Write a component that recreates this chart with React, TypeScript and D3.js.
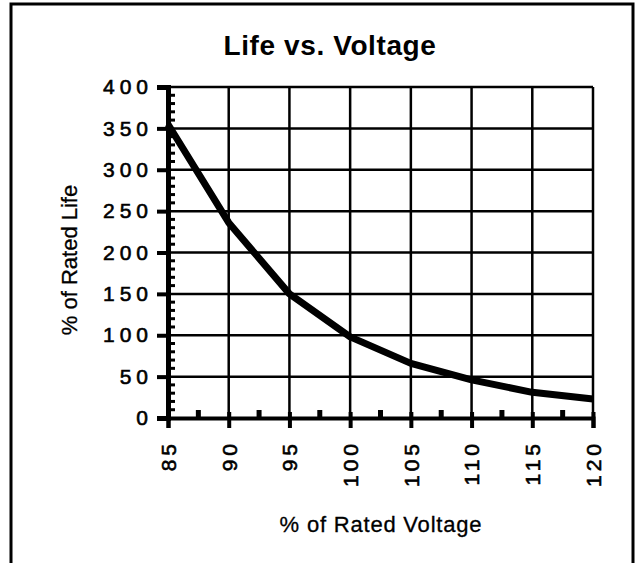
import { useEffect, useRef } from 'react';
import * as d3 from 'd3';

// % of rated voltage vs % of rated life
const voltage = [85, 90, 95, 100, 105, 110, 115, 120];
const life = [355, 236, 150, 98, 66, 46, 31, 23];
const xTicks = [85, 90, 95, 100, 105, 110, 115, 120];
const yTicks = [0, 50, 100, 150, 200, 250, 300, 350, 400];

const W = 638;
const H = 563;

function App() {
  const ref = useRef<SVGSVGElement>(null);

  useEffect(() => {
    const svg = d3.select(ref.current);
    svg.selectAll('*').remove();

    const x = d3.scaleLinear().domain([85, 120]).range([168, 593]);
    const y = d3.scaleLinear().domain([0, 400]).range([418, 87]);
    const font = 'Liberation Sans, Arial, Helvetica, sans-serif';

    // frame
    svg.append('rect')
      .attr('x', 11).attr('y', 4)
      .attr('width', 622).attr('height', 566)
      .attr('fill', 'white').attr('stroke', 'black').attr('stroke-width', 3);

    // title
    svg.append('text')
      .attr('x', 330).attr('y', 55)
      .attr('text-anchor', 'middle')
      .style('font-family', font).style('font-weight', 'bold')
      .style('font-size', '28px').style('letter-spacing', '0.6px')
      .text('Life vs. Voltage');

    // grid
    const grid = svg.append('g');
    grid.selectAll('line.h')
      .data(yTicks.filter(d => d > 0))
      .join('line')
      .attr('x1', x(85)).attr('x2', x(120))
      .attr('y1', d => y(d)).attr('y2', d => y(d))
      .attr('stroke', 'black').attr('stroke-width', 2.5);
    grid.selectAll('line.v')
      .data(xTicks.filter(d => d > 85))
      .join('line')
      .attr('x1', d => x(d)).attr('x2', d => x(d))
      .attr('y1', y(400)).attr('y2', y(0))
      .attr('stroke', 'black').attr('stroke-width', 2.5);

    // y axis
    const yAxis = svg.append('g')
      .attr('transform', `translate(${x(85)},0)`)
      .call(d3.axisLeft(y).tickValues(yTicks).tickSize(11).tickPadding(4));
    yAxis.select('.domain').attr('stroke-width', 5);
    yAxis.selectAll('.tick line').attr('stroke-width', 4);
    yAxis.selectAll('.tick text')
      .style('font-family', font).style('font-size', '21px')
      .style('letter-spacing', '5px').attr('fill', 'black')
      .attr('stroke', 'black').attr('stroke-width', 0.6);

    // y minor ticks (inside)
    const yMinor = d3.range(10, 400, 10).filter(d => d % 50 !== 0);
    svg.append('g').selectAll('line')
      .data(yMinor)
      .join('line')
      .attr('x1', x(85)).attr('x2', x(85) + 7)
      .attr('y1', d => y(d)).attr('y2', d => y(d))
      .attr('stroke', 'black').attr('stroke-width', 3);

    // x axis
    const xAxis = svg.append('g')
      .attr('transform', `translate(0,${y(0)})`)
      .call(d3.axisBottom(x).tickValues(xTicks).tickSize(10).tickFormat(d3.format('d')));
    xAxis.select('.domain').attr('stroke-width', 4);
    xAxis.selectAll('.tick line').attr('stroke-width', 4).attr('y1', -6);
    xAxis.selectAll('.tick text')
      .attr('transform', 'rotate(-90)')
      .attr('x', -22).attr('y', 0).attr('dy', '0.35em')
      .attr('text-anchor', 'end')
      .style('font-family', font).style('font-size', '21px')
      .style('letter-spacing', '4px').attr('fill', 'black')
      .attr('stroke', 'black').attr('stroke-width', 0.6);

    // x minor ticks (inside)
    const xMinor = d3.range(87.5, 120, 5);
    svg.append('g').selectAll('line')
      .data(xMinor)
      .join('line')
      .attr('x1', d => x(d)).attr('x2', d => x(d))
      .attr('y1', y(0)).attr('y2', y(0) - 8)
      .attr('stroke', 'black').attr('stroke-width', 5);

    // curve
    const line = d3.line<number>()
      .x((_, i) => x(voltage[i]))
      .y(d => y(d));
    svg.append('path')
      .attr('d', line(life))
      .attr('fill', 'none')
      .attr('stroke', 'black')
      .attr('stroke-width', 7)
      .attr('stroke-linejoin', 'round');

    // axis titles
    svg.append('text')
      .attr('transform', 'translate(77,260) rotate(-90)')
      .attr('text-anchor', 'middle')
      .style('font-family', font).style('font-size', '22px')
      .attr('stroke', 'black').attr('stroke-width', 0.3)
      .text('% of Rated Life');
    svg.append('text')
      .attr('x', 381).attr('y', 532)
      .attr('text-anchor', 'middle')
      .style('font-family', font).style('font-size', '22px')
      .style('letter-spacing', '0.8px')
      .attr('stroke', 'black').attr('stroke-width', 0.3)
      .text('% of Rated Voltage');
  }, []);

  return (
    <svg
      ref={ref}
      width={W}
      height={H}
      style={{ position: 'absolute', left: 0, top: 0, background: 'white' }}
    />
  );
}

export default App;
